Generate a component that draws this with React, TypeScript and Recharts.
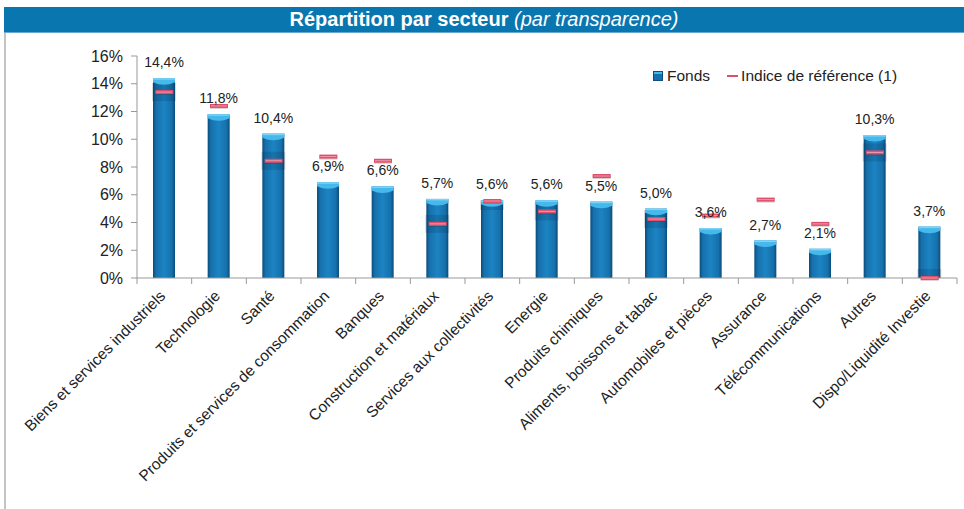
import React from 'react';
import { ComposedChart, Bar, Scatter, XAxis, YAxis, LabelList } from 'recharts';

const categories = [
  'Biens et services industriels',
  'Technologie',
  'Santé',
  'Produits et services de consommation',
  'Banques',
  'Construction et matériaux',
  'Services aux collectivités',
  'Energie',
  'Produits chimiques',
  'Aliments, boissons et tabac',
  'Automobiles et pièces',
  'Assurance',
  'Télécommunications',
  'Autres',
  'Dispo/Liquidité Investie',
];
const fonds = [14.4, 11.8, 10.4, 6.9, 6.6, 5.7, 5.6, 5.6, 5.5, 5.0, 3.6, 2.7, 2.1, 10.3, 3.7];
const indice = [13.4, 12.4, 8.45, 8.75, 8.45, 3.9, 5.55, 4.8, 7.35, 4.25, 4.5, 5.65, 3.9, 9.05, 0];
const yTicks = [0, 2, 4, 6, 8, 10, 12, 14, 16];

const data = categories.map((name, i) => ({ name, fonds: fonds[i], indice: indice[i] }));

const W = 964;
const H = 509;
const LEFT = 137;
const RIGHT = 7;
const BAND = (W - LEFT - RIGHT) / categories.length;
const FONT = 'Arial, "Liberation Sans", sans-serif';

// barre avec effet 3D (bords sombres, chapeau clair)
const FondsBar = (props: any) => {
  const { x, y, width, height, payload } = props;
  if (!height) return null;
  const ppu = height / payload.fonds;
  const my = y + height - payload.indice * ppu;
  const top = Math.max(y, my - 9);
  const bot = Math.min(y + height, my + 9);
  return (
    <g>
      <rect x={x} y={y} width={width} height={height} fill="url(#barBody)" />
      {payload.indice <= payload.fonds && bot > top && (
        <rect x={x - 1} y={top} width={width + 2} height={bot - top} fill="rgba(0,30,60,0.16)" />
      )}
      <path
        d={`M${x},${y} H${x + width} V${y + 4} Q${x + width / 2},${y + 9} ${x},${y + 4} Z`}
        fill="#45b8ec"
      />
      <rect x={x} y={y} width={width} height={1.5} fill="#7fd3f7" />
    </g>
  );
};

const Marker = (props: any) => {
  const { cx, cy } = props;
  if (cx == null || cy == null) return null;
  return (
    <g>
      <rect x={cx - 9} y={cy - 1} width={18} height={4} fill="rgba(80,20,30,0.2)" />
      <rect x={cx - 9} y={cy - 2} width={18} height={4} fill="#de4f6b" />
      <rect x={cx - 8} y={cy - 0.5} width={16} height={1} fill="#f29aaa" />
    </g>
  );
};

const CatTick = (props: any) => {
  const { x, y, payload, index } = props;
  return (
    <g>
      <line x1={x - BAND / 2} y1={y} x2={x - BAND / 2} y2={y + 6} stroke="#999" />
      {index === categories.length - 1 && (
        <line x1={x + BAND / 2} y1={y} x2={x + BAND / 2} y2={y + 6} stroke="#999" />
      )}
      <text
        transform={`translate(${x + 2},${y + 19}) rotate(-45)`}
        textAnchor="end"
        fontSize={15.5}
        fontFamily={FONT}
        fill="#222"
      >
        {payload.value}
      </text>
    </g>
  );
};

const fmt = (v: any) => `${Number(v).toFixed(1).replace('.', ',')}%`;

export default function App() {
  return (
    <div style={{ position: 'absolute', left: 0, top: 0, width: W, height: H, background: '#fff', fontFamily: FONT }}>
      <div style={{ position: 'absolute', left: 4, top: 7, width: 2, height: H - 7, background: '#c4c4c4' }} />
      <div
        style={{
          position: 'absolute',
          left: 4,
          top: 7,
          width: W - 4,
          height: 25,
          background: '#0a76b0',
          borderBottom: '1px solid #6aa8d4',
          color: '#fff',
          textAlign: 'center',
          fontSize: 20,
          lineHeight: '25px',
        }}
      >
        <span style={{ fontWeight: 'bold' }}>Répartition par secteur </span>
        <span style={{ fontStyle: 'italic' }}>(par transparence)</span>
      </div>

      <div style={{ position: 'absolute', left: 653, top: 67, display: 'flex', alignItems: 'center', fontSize: 15.5, color: '#222' }}>
        <span style={{ width: 10, height: 10, background: 'linear-gradient(#45b8ec 0 30%, #1672ad 30%)', border: '1px solid #0c4f7d', boxSizing: 'border-box', marginRight: 4 }} />
        <span>Fonds</span>
        <span style={{ width: 11, height: 2, background: '#de4f6b', marginLeft: 17, marginRight: 3 }} />
        <span>Indice de référence (1)</span>
      </div>

      <div style={{ position: 'absolute', left: 0, top: 0 }}>
        <ComposedChart width={W} height={H} data={data} margin={{ top: 56, right: RIGHT, bottom: 0, left: 0 }}>
          <defs>
            <linearGradient id="barBody" x1="0" y1="0" x2="1" y2="0">
              <stop offset="0%" stopColor="#0b4c79" />
              <stop offset="14%" stopColor="#1670ab" />
              <stop offset="50%" stopColor="#1c84c3" />
              <stop offset="86%" stopColor="#1670ab" />
              <stop offset="100%" stopColor="#0b4c79" />
            </linearGradient>
          </defs>
          <XAxis
            dataKey="name"
            interval={0}
            height={H - 278}
            tickLine={false}
            tickSize={0}
            tickMargin={0}
            axisLine={{ stroke: '#999' }}
            tick={<CatTick />}
          />
          <YAxis
            domain={[0, 16]}
            ticks={yTicks}
            width={LEFT}
            tickSize={6}
            tickMargin={8}
            tickLine={{ stroke: '#999' }}
            axisLine={{ stroke: '#999' }}
            tickFormatter={(v) => `${v}%`}
            tick={{ fontSize: 16, fill: '#222', fontFamily: FONT }}
          />
          <Bar dataKey="fonds" barSize={22} shape={<FondsBar />} isAnimationActive={false}>
            <LabelList dataKey="fonds" position="top" offset={11} formatter={fmt} fontSize={14} fill="#222" fontFamily={FONT} />
          </Bar>
          <Scatter dataKey="indice" shape={<Marker />} isAnimationActive={false} />
        </ComposedChart>
      </div>
    </div>
  );
}
